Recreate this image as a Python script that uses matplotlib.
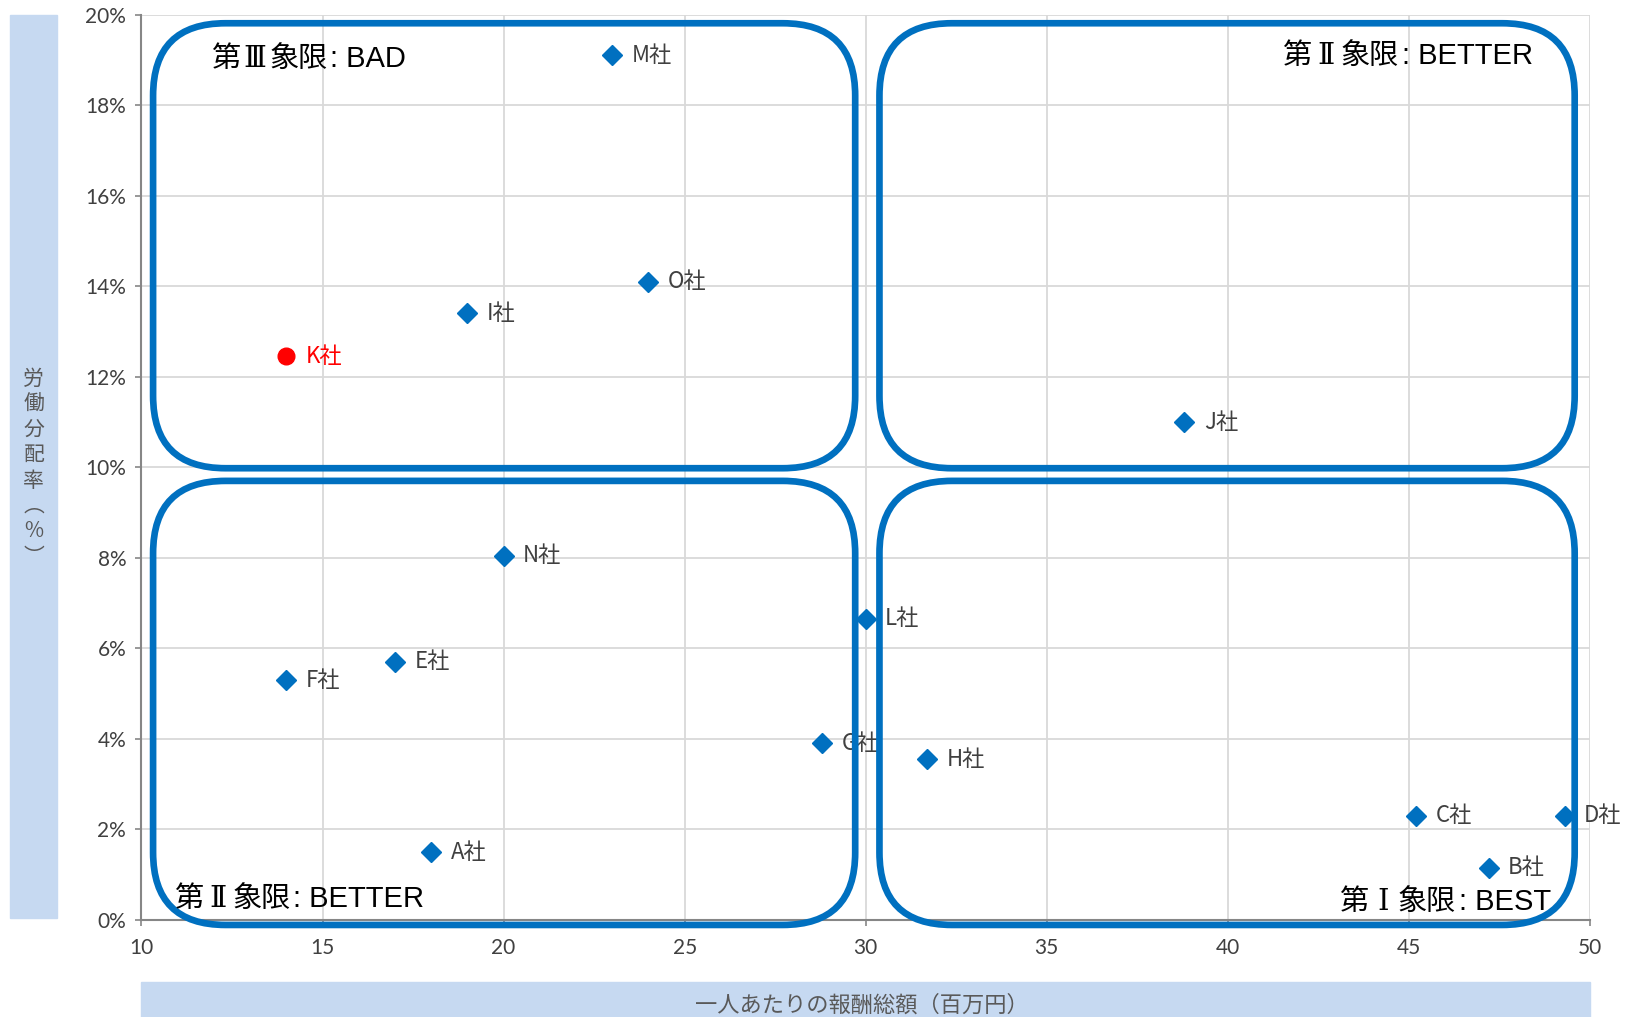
import matplotlib
matplotlib.use('Agg')
import matplotlib.pyplot as plt
from matplotlib.patches import FancyBboxPatch, Rectangle
from matplotlib.ticker import FuncFormatter

# 各社の一人あたり報酬総額（百万円）と労働分配率（%）
companies = ['A社', 'B社', 'C社', 'D社', 'E社', 'F社', 'G社', 'H社',
             'I社', 'J社', 'K社', 'L社', 'M社', 'N社', 'O社']
pay = [18.0, 47.2, 45.2, 49.3, 17.0, 14.0, 28.8, 31.7,
       19.0, 38.8, 14.0, 30.0, 23.0, 20.0, 24.0]
ratio = [1.5, 1.15, 2.3, 2.3, 5.7, 5.3, 3.9, 3.55,
         13.4, 11.0, 12.45, 6.65, 19.1, 8.05, 14.1]
highlight = 'K社'

# 象限名：ローマ数字と評価
quadrant_num = ['Ⅲ', 'Ⅱ', 'Ⅱ', 'Ⅰ']
quadrant_word = [': BAD', ': BETTER', ': BETTER', ': BEST']
x_ticks = [10, 15, 20, 25, 30, 35, 40, 45, 50]
y_ticks = [0, 2, 4, 6, 8, 10, 12, 14, 16, 18, 20]
x_title = '一人あたりの報酬総額（百万円）'
y_title = '労働分配率（%）'

BLUE = '#0070C0'
BAND = '#C6D9F1'
cjk = ['Noto Sans CJK JP', 'DejaVu Sans']
latin = ['Liberation Sans', 'DejaVu Sans']
serif = ['DejaVu Serif']
QFS = 21

fig = plt.figure(figsize=(16.32, 10.17), dpi=100)
ax = fig.add_axes([0.0867, 0.0954, 0.8875, 0.8902])
ax.set_xlim(10, 50)
ax.set_ylim(0, 20)
ax.set_xticks(x_ticks)
ax.set_yticks(y_ticks)
ax.yaxis.set_major_formatter(FuncFormatter(lambda v, p: '%d%%' % v))
ax.grid(True, color='#D9D9D9', lw=1.3, zorder=0)
ax.set_axisbelow(True)
for s in ['top', 'right']:
    ax.spines[s].set_visible(False)
for s in ['left', 'bottom']:
    ax.spines[s].set_color('#868686')
    ax.spines[s].set_linewidth(1.5)
ax.tick_params(direction='out', length=4, width=1.2, color='#868686',
               labelcolor='#404040', labelsize=15)
ax.tick_params(axis='y', pad=7)
ax.tick_params(axis='x', pad=9)
for lab in ax.get_xticklabels() + ax.get_yticklabels():
    lab.set_family(['Lato', 'DejaVu Sans'])

# 散布図（自社は赤丸）
for name, x, y in zip(companies, pay, ratio):
    if name == highlight:
        ax.plot(x, y, 'o', color='#FF0000', ms=12, zorder=3, clip_on=False)
        col = '#FF0000'
    else:
        ax.plot(x, y, 'D', color=BLUE, ms=10, zorder=3, clip_on=False)
        col = '#404040'
    ax.annotate(name, (x, y), xytext=(14, 0), textcoords='offset points',
                va='center', ha='left', fontsize=16, color=col,
                family=cjk, zorder=3, annotation_clip=False)

# 象限の角丸枠
boxes = [(10.32, 9.98, 19.39, 9.83), (30.38, 9.98, 19.2, 9.83),
         (10.32, -0.11, 19.39, 9.81), (30.38, -0.11, 19.2, 9.81)]
for bx, by, bw, bh in boxes:
    p = FancyBboxPatch((bx, by), bw, bh,
                       boxstyle='round,pad=0,rounding_size=2.0',
                       mutation_aspect=0.8, fill=False, ec=BLUE, lw=4.8,
                       zorder=4, clip_on=False)
    ax.add_patch(p)


def piece(txt, prev, side, y, fam, dx=0, ha='left'):
    # 直前の文字列の端にベースラインをそろえて続ける
    return ax.annotate(txt, xy=(side, y), xycoords=(prev, 'axes fraction'),
                       xytext=(dx, 0), textcoords='offset points', ha=ha,
                       va='baseline', fontsize=QFS, family=fam, zorder=5,
                       annotation_clip=False)


qpos = [(0.048, 0.942, 'left'), (0.9606, 0.9455, 'right'),
        (0.0224, 0.0144, 'left'), (0.973, 0.011, 'right')]
em = QFS
for (qx, qy, ha), num, word in zip(qpos, quadrant_num, quadrant_word):
    if ha == 'left':
        t1 = ax.text(qx, qy, '第', transform=ax.transAxes, ha='left',
                     va='baseline', fontsize=QFS, family=cjk, zorder=5)
        piece(num, t1, 1, qy, serif, dx=em / 2, ha='center')
        t3 = piece('象限', t1, 1, qy, cjk, dx=em, ha='left')
        piece(word, t3, 1, qy, latin, dx=2, ha='left')
    else:
        t4 = ax.text(qx, qy, word, transform=ax.transAxes, ha='right',
                     va='baseline', fontsize=QFS, family=latin, zorder=5)
        t3 = piece('象限', t4, 0, qy, cjk, dx=-2, ha='right')
        piece(num, t3, 0, qy, serif, dx=-em / 2, ha='center')
        piece('第', t3, 0, qy, cjk, dx=-em, ha='right')

# 軸タイトルの帯
fig.patches.append(Rectangle((0.0064, 0.0973), 0.0287, 0.888,
                             transform=fig.transFigure, color=BAND, zorder=0))
fig.patches.append(Rectangle((0.0867, 0.0), 0.8875, 0.0344,
                             transform=fig.transFigure, color=BAND, zorder=0))
vert = y_title.replace('（', '︵').replace('）', '︶')
fig.text(0.0207, 0.540, '\n'.join(vert), ha='center', va='center',
         fontsize=15, color='#595959', family=cjk, linespacing=1.2)
fig.text(0.528, 0.012, x_title, ha='center', va='center',
         fontsize=16, color='#595959', family=cjk)

fig.savefig('out.png', dpi=100)
